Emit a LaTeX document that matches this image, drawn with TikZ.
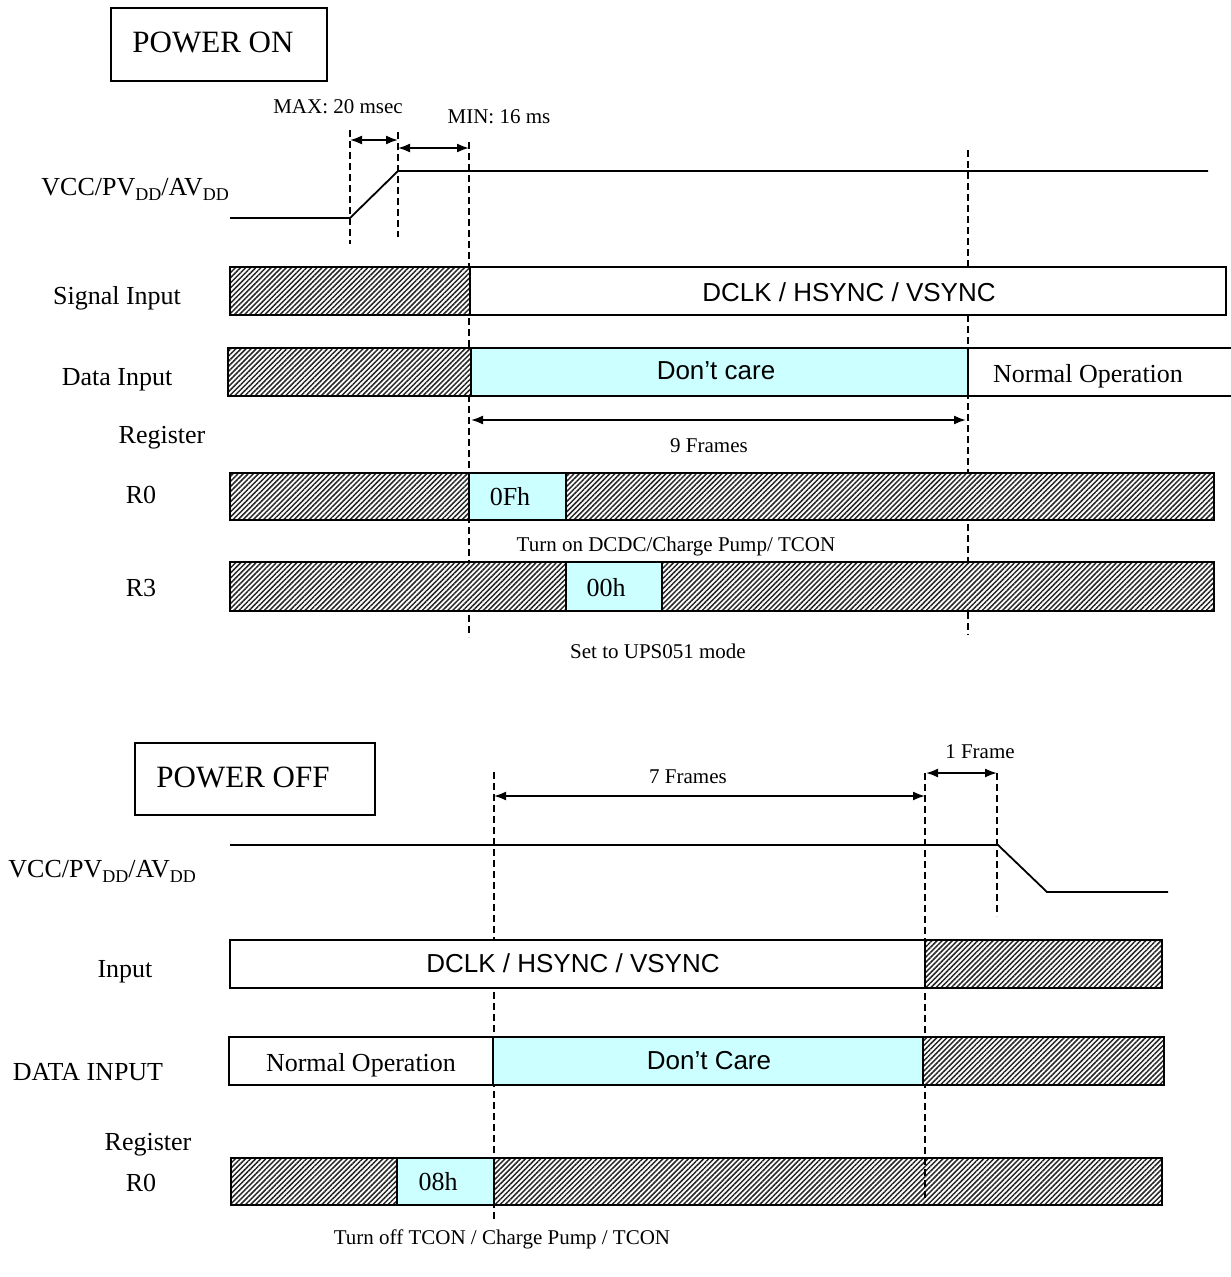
\documentclass[tikz,border=0pt]{standalone}
\usepackage{fontspec}
\setmainfont{Liberation Serif}
\newfontfamily\sansfam{Liberation Sans}
\usetikzlibrary{patterns.meta,arrows.meta}
\definecolor{dccyan}{HTML}{CCFFFF}
\newcommand\lowdd[1]{\raisebox{-0.2em}{\fontsize{18}{18}\selectfont #1}}
\begin{document}
\begin{tikzpicture}[x=1pt,y=-1pt,
  seg/.style={draw=black, line width=1.8pt, anchor=north west, inner sep=0pt, outer sep=0pt},
  hatchseg/.style={seg, preaction={fill=white}, pattern={Lines[angle=45,distance=3.6pt,line width=1.5pt]}, pattern color=black!85},
  whiteseg/.style={seg, fill=white},
  cyanseg/.style={seg, fill=dccyan},
  titlebox/.style={draw=black, line width=1.5pt, anchor=north west, inner sep=0pt},
  txt/.style={inner sep=0pt, anchor=base, font=\fontsize{26}{30}\selectfont},
  bigtxt/.style={txt, font=\fontsize{31}{36}\selectfont},
  smalltxt/.style={txt, font=\fontsize{21}{25}\selectfont},
  sanstxt/.style={txt, font=\sansfam\fontsize{26}{30}\selectfont},
  vdash/.style={line width=1.6pt, dash pattern=on 7pt off 4pt},
  dimarrow/.style={line width=1.8pt, {Latex[length=12pt,width=9pt]}-{Latex[length=12pt,width=9pt]}},
  sigline/.style={line width=1.8pt}
]
\useasboundingbox (0,0) rectangle (1231,1277);

% ================= POWER ON =================
\node[titlebox, minimum width=216pt, minimum height=73pt] (pon) at (110,7) {};
\node[bigtxt] (pontxt) at (213,52) {POWER ON};

\node[smalltxt] (maxtxt) at (338,113) {MAX: 20 msec};
\node[smalltxt] (mintxt) at (499,123) {MIN: 16 ms};

% dashed markers
\coordinate (d1t) at (350,130); \coordinate (d1b) at (350,244);
\coordinate (d2t) at (398,132); \coordinate (d2b) at (398,237);
\coordinate (d3t) at (469,142); \coordinate (d3b) at (469,637);
\coordinate (d4t) at (968,150); \coordinate (d4b) at (968,635);
\draw[vdash] (d1t) -- (d1b);
\draw[vdash] (d2t) -- (d2b);
\draw[vdash] (d3t) -- (d3b);
\draw[vdash] (d4t) -- (d4b);

% arrows
\coordinate (a1l) at (350,140); \coordinate (a1r) at (398,140);
\coordinate (a2l) at (398,148); \coordinate (a2r) at (469,148);
\coordinate (a3l) at (471,420); \coordinate (a3r) at (966,420);
\draw[dimarrow] (a1l) -- (a1r);
\draw[dimarrow] (a2l) -- (a2r);
\draw[dimarrow] (a3l) -- (a3r);

% VCC rise
\node[txt, anchor=base east] (vcc1) at (229,195) {VCC/PV\lowdd{DD}/AV\lowdd{DD}};
\coordinate (v1a) at (230,218); \coordinate (v1b) at (350,218);
\coordinate (v1c) at (398,171); \coordinate (v1d) at (1208,171);
\draw[sigline] (v1a) -- (v1b) -- (v1c) -- (v1d);

% Signal input
\node[txt] (lsig) at (117,304) {Signal Input};
\node[hatchseg, minimum width=240pt, minimum height=48pt] (si1) at (230,267) {};
\node[whiteseg, minimum width=756pt, minimum height=48pt] (si2) at (470,267) {};
\node[sanstxt] (sitxt) at (849,301) {DCLK / HSYNC / VSYNC};

% Data input
\node[txt] (ldat) at (117,385) {Data Input};
\node[hatchseg, minimum width=243pt, minimum height=48pt] (di1) at (228,348) {};
\node[cyanseg, minimum width=497pt, minimum height=48pt] (di2) at (471,348) {};
\coordinate (die1) at (1231,348); \coordinate (die2) at (1231,396);
\draw[line width=1.8pt] (di2.north east) -- (die1);
\draw[line width=1.8pt] (di2.south east) -- (die2);
\node[sanstxt] (ditxt) at (716,379) {Don’t care};
\node[txt] (dinorm) at (1088,382) {Normal Operation};

% Register
\node[txt] (lreg1) at (162,443) {Register};
\node[smalltxt] (nine) at (709,452) {9 Frames};

% R0
\node[txt] (lr0) at (141,503) {R0};
\node[hatchseg, minimum width=239pt, minimum height=47pt] (r0a) at (230,473) {};
\node[cyanseg, minimum width=97pt, minimum height=47pt] (r0b) at (469,473) {};
\node[hatchseg, minimum width=648pt, minimum height=47pt] (r0c) at (566,473) {};
\node[txt] (r0txt) at (510,505) {0Fh};
\node[smalltxt] (turnon) at (676,551) {Turn on DCDC/Charge Pump/ TCON};

% R3
\node[txt] (lr3) at (141,596) {R3};
\node[hatchseg, minimum width=336pt, minimum height=49pt] (r3a) at (230,562) {};
\node[cyanseg, minimum width=96pt, minimum height=49pt] (r3b) at (566,562) {};
\node[hatchseg, minimum width=552pt, minimum height=49pt] (r3c) at (662,562) {};
\node[txt] (r3txt) at (606,596) {00h};
\node[smalltxt] (setups) at (658,658) {Set to UPS051 mode};

% ================= POWER OFF =================
\node[titlebox, minimum width=240pt, minimum height=72pt] (poff) at (134,742) {};
\node[bigtxt] (pofftxt) at (243,787) {POWER OFF};

\node[smalltxt] (seven) at (688,783) {7 Frames};
\node[smalltxt] (oneframe) at (980,758) {1 Frame};

\coordinate (e1t) at (494,772); \coordinate (e1b) at (494,1222);
\coordinate (e2t) at (925,773); \coordinate (e2b) at (925,1200);
\coordinate (e2m) at (925,1158);
\coordinate (e3t) at (997,773); \coordinate (e3b) at (997,916);
\draw[vdash] (e1t) -- (e1b);
\draw[vdash] (e2t) -- (e2b);
\draw[vdash] (e3t) -- (e3b);

\coordinate (b1l) at (494,796); \coordinate (b1r) at (925,796);
\coordinate (b2l) at (926,773); \coordinate (b2r) at (997,773);
\draw[dimarrow] (b1l) -- (b1r);
\draw[dimarrow] (b2l) -- (b2r);

% VCC fall
\node[txt, anchor=base east] (vcc2) at (196,877) {VCC/PV\lowdd{DD}/AV\lowdd{DD}};
\coordinate (v2a) at (230,845); \coordinate (v2b) at (998,845);
\coordinate (v2c) at (1047,892); \coordinate (v2d) at (1168,892);
\draw[sigline] (v2a) -- (v2b) -- (v2c) -- (v2d);

% Input
\node[txt] (lin) at (125,977) {Input};
\node[whiteseg, minimum width=695pt, minimum height=48pt] (in1) at (230,940) {};
\node[hatchseg, minimum width=237pt, minimum height=48pt] (in2) at (925,940) {};
\node[sanstxt] (intxt) at (573,972) {DCLK / HSYNC / VSYNC};

% DATA INPUT
\node[txt] (ldata) at (88,1080) {DATA INPUT};
\node[whiteseg, minimum width=264pt, minimum height=48pt] (da1) at (229,1037) {};
\node[cyanseg, minimum width=430pt, minimum height=48pt] (da2) at (493,1037) {};
\node[hatchseg, minimum width=241pt, minimum height=48pt] (da3) at (923,1037) {};
\node[txt] (danorm) at (361,1071) {Normal Operation};
\node[sanstxt] (dacare) at (709,1069) {Don’t Care};

% Register / R0
\node[txt] (lreg2) at (148,1150) {Register};
\node[txt] (lq0) at (141,1191) {R0};
\node[hatchseg, minimum width=166pt, minimum height=47pt] (q1) at (231,1158) {};
\node[cyanseg, minimum width=97pt, minimum height=47pt] (q2) at (397,1158) {};
\node[hatchseg, minimum width=668pt, minimum height=47pt] (q3) at (494,1158) {};
\node[txt] (q2txt) at (438,1190) {08h};
\draw[vdash] (e2m) -- (e2b);
\node[smalltxt] (turnoff) at (502,1244) {Turn off TCON / Charge Pump / TCON};
\end{tikzpicture}
\end{document}
